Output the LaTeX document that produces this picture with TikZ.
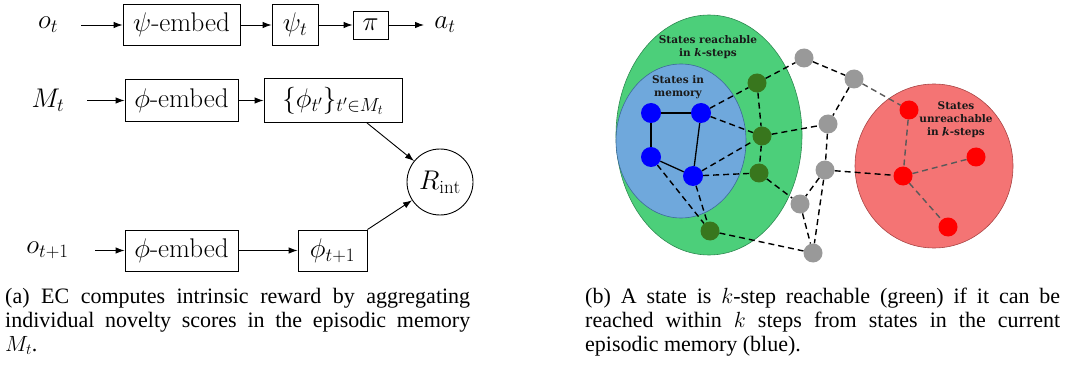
\RequirePackage{fix-cm}
\documentclass[tikz,border=0pt]{standalone}
\usepackage{fontspec}
\newfontfamily\capfont{Liberation Serif}
\newfontfamily\lblfont{DejaVu Serif}
\usetikzlibrary{arrows.meta}
\newcommand\lpanelfont{\fontsize{27}{32}\selectfont}
\definecolor{greenfill}{HTML}{4CCF7A}
\definecolor{greenborder}{HTML}{2F8A52}
\definecolor{bluefill}{HTML}{6FA8DC}
\definecolor{blueborder}{HTML}{3D6A99}
\definecolor{redfill}{HTML}{F47474}
\definecolor{redborder}{HTML}{A84444}
\definecolor{dkgreen}{HTML}{38761D}
\definecolor{graynode}{HTML}{999999}
\pgfdeclarelayer{bg}
\pgfdeclarelayer{edges}
\pgfsetlayers{bg,edges,main}
\begin{document}
\begin{tikzpicture}[x=1pt,y=-1pt,
  box/.style={draw, line width=0.9pt, inner sep=0pt, font=\lpanelfont},
  lbl/.style={inner sep=0pt, font=\lpanelfont},
  arr/.style={line width=0.9pt, -{Latex[length=9pt,width=6.5pt]}},
  st/.style={circle, inner sep=0pt, minimum size=19pt},
  bst/.style={st, fill=blue, minimum size=20pt},
  gst/.style={st, fill=dkgreen},
  yst/.style={st, fill=graynode},
  rst/.style={st, fill=red},
  solidedge/.style={line width=1.3pt},
  dashedge/.style={line width=1.4pt, dash pattern=on 6pt off 4pt},
  grayedge/.style={dashedge, draw=black!65},
  region/.style={line width=0.6pt},
  stlabel/.style={inner sep=0pt, align=center, text=black!90, font=\lblfont\bfseries\fontsize{10.5}{13}\selectfont},
  capn/.style={inner sep=0pt, anchor=base west, font=\capfont\fontsize{22}{24}\selectfont}]
\useasboundingbox (0,0) rectangle (1067,366);

% ---------- left panel ----------
\node[lbl] (ot) at (48,25) {$o_t$};
\node[box, minimum width=117pt, minimum height=41pt] (pe) at (181.5,25) {$\psi$-embed};
\node[box, minimum width=46pt, minimum height=41pt] (pst) at (295,25) {$\psi_t$};
\node[box, minimum width=35pt, minimum height=28pt] (pi) at (370.5,25) {$\pi$};
\node[lbl] (at) at (445,25) {$a_t$};
\coordinate (otA) at (81,25);
\coordinate (atA) at (424,25);
\draw[arr] (otA) -- (pe.west);
\draw[arr] (pe.east) -- (pst.west);
\draw[arr] (pst.east) -- (pi.west);
\draw[arr] (pi.east) -- (atA);

\node[lbl] (Mt) at (48,100.5) {$M_t$};
\node[box, minimum width=113pt, minimum height=42pt] (fe1) at (181.5,100.5) {$\phi$-embed};
\node[box, minimum width=138pt, minimum height=44pt] (phis) at (333,100.5) {$\{\phi_{t'}\}_{t'\in M_t}$};
\coordinate (MtA) at (87,100.5);
\draw[arr] (MtA) -- (fe1.west);
\draw[arr] (fe1.east) -- (phis.west);

\node[draw, circle, line width=0.9pt, minimum size=66pt, inner sep=0pt, font=\lpanelfont] (R) at (440,182) {$R_{\mathrm{int}}$};

\node[lbl] (ot1) at (47.5,250.5) {$o_{t+1}$};
\node[box, minimum width=113pt, minimum height=41pt] (fe2) at (181.5,250.5) {$\phi$-embed};
\node[box, minimum width=69pt, minimum height=41pt] (phi1) at (332.5,250.5) {$\phi_{t+1}$};
\coordinate (ot1A) at (95,250.5);
\draw[arr] (ot1A) -- (fe2.west);
\draw[arr] (fe2.east) -- (phi1.west);

\draw[arr] ([xshift=34pt]phis.south) -- (R);
\draw[arr] (phi1.north east) -- (R);

% ---------- right panel ----------
\begin{pgfonlayer}{bg}
\filldraw[region, fill=greenfill, draw=greenborder] (709,135) ellipse [x radius=93pt, y radius=120pt];
\filldraw[region, fill=bluefill, draw=blueborder] (681,141) ellipse [x radius=65pt, y radius=77pt];
\filldraw[region, fill=redfill, draw=redborder] (934,166) ellipse [x radius=79pt, y radius=82pt];
\end{pgfonlayer}

\node[bst] (B1) at (651,113) {};
\node[bst] (B2) at (701,113) {};
\node[bst] (B3) at (651,157) {};
\node[bst] (B4) at (693,176) {};
\node[gst] (G1) at (757,83) {};
\node[gst] (G2) at (762,136) {};
\node[gst] (G3) at (759,173) {};
\node[gst] (G4) at (710,231) {};
\node[yst] (Y1) at (804,58) {};
\node[yst] (Y2) at (854,79) {};
\node[yst] (Y3) at (828,124) {};
\node[yst] (Y4) at (825,170) {};
\node[yst] (Y5) at (800,204) {};
\node[yst] (Y6) at (813,253) {};
\node[rst] (R1) at (909,110) {};
\node[rst] (R2) at (976,157) {};
\node[rst] (R3) at (903,176) {};
\node[rst] (R4) at (948,227) {};

\begin{pgfonlayer}{edges}
\draw[solidedge] (B1) -- (B2);
\draw[solidedge] (B1) -- (B3);
\draw[solidedge] (B3) -- (B4);
\draw[solidedge] (B2) -- (B4);
\draw[dashedge] (B2) -- (G1);
\draw[dashedge] (B2) -- (G2);
\draw[dashedge] (B4) -- (G2);
\draw[dashedge] (B4) -- (G3);
\draw[dashedge] (B3) -- (G4);
\draw[dashedge] (B4) -- (G4);
\draw[dashedge] (G1) -- (G2);
\draw[dashedge] (G2) -- (G3);
\draw[dashedge] (G1) -- (Y1);
\draw[dashedge] (Y1) -- (Y2);
\draw[dashedge] (G2) -- (Y3);
\draw[dashedge] (Y2) -- (Y3);
\draw[dashedge] (Y3) -- (Y4);
\draw[dashedge] (G3) -- (Y5);
\draw[dashedge] (Y4) -- (Y5);
\draw[dashedge] (Y4) -- (Y6);
\draw[dashedge] (Y5) -- (Y6);
\draw[dashedge] (G4) -- (Y6);
\draw[dashedge] (Y4) -- (R3);
\draw[grayedge] (Y2) -- (R1);
\draw[grayedge] (R1) -- (R3);
\draw[grayedge] (R3) -- (R2);
\draw[grayedge] (R3) -- (R4);
\end{pgfonlayer}

\node[stlabel] (lg) at (708,47) {States reachable\\in \textit{k}-steps};
\node[stlabel] (lb) at (678,87) {States in\\memory};
\node[stlabel] (lr) at (956,120) {States\\unreachable\\in \rlap{/}\textit{k}-steps};

% ---------- captions ----------
\node[capn] (ca1) at (5,303) {\makebox[465pt][s]{(a) EC computes intrinsic reward by aggregating}};
\node[capn] (ca2) at (5,327) {\makebox[465pt][s]{individual novelty scores in the episodic memory}};
\node[capn] (ca3) at (5,351) {$M_t$.};
\node[capn] (cb1) at (585,303) {\makebox[475pt][s]{(b) A state is $k$-step reachable (green) if it can be}};
\node[capn] (cb2) at (585,327) {\makebox[475pt][s]{reached within $k$ steps from states in the current}};
\node[capn] (cb3) at (585,351) {episodic memory (blue).};
\end{tikzpicture}
\end{document}
